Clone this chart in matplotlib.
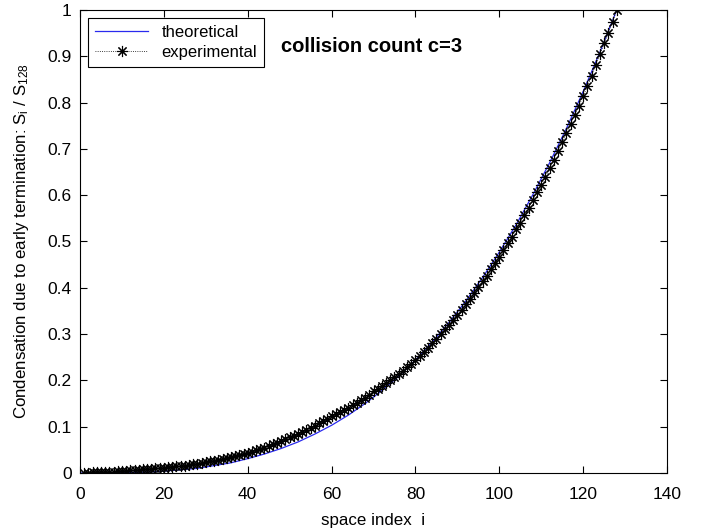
import numpy as np
import matplotlib
matplotlib.use("Agg")
import matplotlib.pyplot as plt

# theoretical curve, read every 4 steps of i
i_theo = [0, 4, 8, 12, 16, 20, 24, 28, 32, 36, 40, 44, 48, 52, 56, 60, 64,
          68, 72, 76, 80, 84, 88, 92, 96, 100, 104, 108, 112, 116, 120, 124, 128]
s_theo = [0.000, 0.000, 0.000, 0.001, 0.002, 0.004, 0.007, 0.010, 0.016, 0.022,
          0.031, 0.041, 0.053, 0.067, 0.084, 0.103, 0.125, 0.150, 0.178, 0.209,
          0.244, 0.283, 0.325, 0.371, 0.422, 0.477, 0.536, 0.601, 0.670, 0.744,
          0.824, 0.909, 1.000]

# experimental points, i = 1..128
i_exp = list(range(1, 129))
s_exp = [0.001, 0.001, 0.002, 0.002, 0.002, 0.003, 0.003, 0.003, 0.004, 0.005,
         0.005, 0.006, 0.006, 0.006, 0.008, 0.008, 0.008, 0.010, 0.010, 0.011,
         0.012, 0.013, 0.014, 0.015, 0.016, 0.017, 0.019, 0.020, 0.021, 0.023,
         0.025, 0.026, 0.028, 0.030, 0.032, 0.034, 0.036, 0.039, 0.041, 0.044,
         0.046, 0.049, 0.052, 0.055, 0.058, 0.062, 0.065, 0.069, 0.073, 0.077,
         0.080, 0.084, 0.089, 0.093, 0.097, 0.102, 0.107, 0.112, 0.117, 0.122,
         0.127, 0.131, 0.136, 0.141, 0.146, 0.152, 0.158, 0.163, 0.169, 0.176,
         0.181, 0.188, 0.194, 0.200, 0.207, 0.214, 0.221, 0.229, 0.236, 0.244,
         0.253, 0.262, 0.271, 0.280, 0.290, 0.300, 0.310, 0.320, 0.331, 0.342,
         0.353, 0.365, 0.376, 0.389, 0.401, 0.414, 0.426, 0.440, 0.453, 0.467,
         0.481, 0.496, 0.510, 0.526, 0.541, 0.557, 0.573, 0.589, 0.606, 0.623,
         0.640, 0.658, 0.677, 0.695, 0.714, 0.734, 0.753, 0.773, 0.793, 0.814,
         0.836, 0.858, 0.881, 0.904, 0.928, 0.951, 0.975, 1.000]

plt.rcParams['font.family'] = ['Liberation Sans', 'DejaVu Sans']
plt.rcParams['mathtext.fontset'] = 'custom'
plt.rcParams['mathtext.rm'] = 'Liberation Sans'
plt.rcParams['mathtext.it'] = 'Liberation Sans'

fig = plt.figure(figsize=(7.06, 5.29), dpi=100)
ax = fig.add_axes([0.1133, 0.1059, 0.8315, 0.8752])

ax.plot(i_theo, s_theo, color='#2a2aee', linewidth=0.9, label='theoretical')
ax.plot(i_exp, s_exp, color='black', linestyle=':', linewidth=0.6,
        marker=(8, 2, 0), markersize=8, markeredgewidth=0.8,
        label='experimental')

ax.set_xlim(0, 140)
ax.set_ylim(0, 1)
ax.set_xticks(np.arange(0, 141, 20))
ax.set_yticks(np.arange(0, 1.01, 0.1))
ax.set_yticklabels(['0', '0.1', '0.2', '0.3', '0.4', '0.5', '0.6', '0.7', '0.8', '0.9', '1'])
ax.tick_params(direction='in', top=True, right=True, labelsize=12.5, length=5)
ax.tick_params(axis='x', pad=10)
ax.tick_params(axis='y', pad=6)

ax.set_xlabel('space index  i', fontsize=12.2, labelpad=8)
ax.set_ylabel(r'Condensation due to early termination: S$_\mathregular{i}$ / S$_\mathregular{128}$',
              fontsize=12.2, labelpad=12)

ax.text(48, 0.922, 'collision count c=3', fontsize=14.5, fontweight='bold', va='center')

leg = ax.legend(loc='upper left', fontsize=12, fancybox=False, framealpha=1,
                edgecolor='black', borderaxespad=0.5, handlelength=3.2,
                borderpad=0.4, labelspacing=0.3)
leg.get_frame().set_linewidth(0.8)

plt.savefig('out.png', dpi=100)
